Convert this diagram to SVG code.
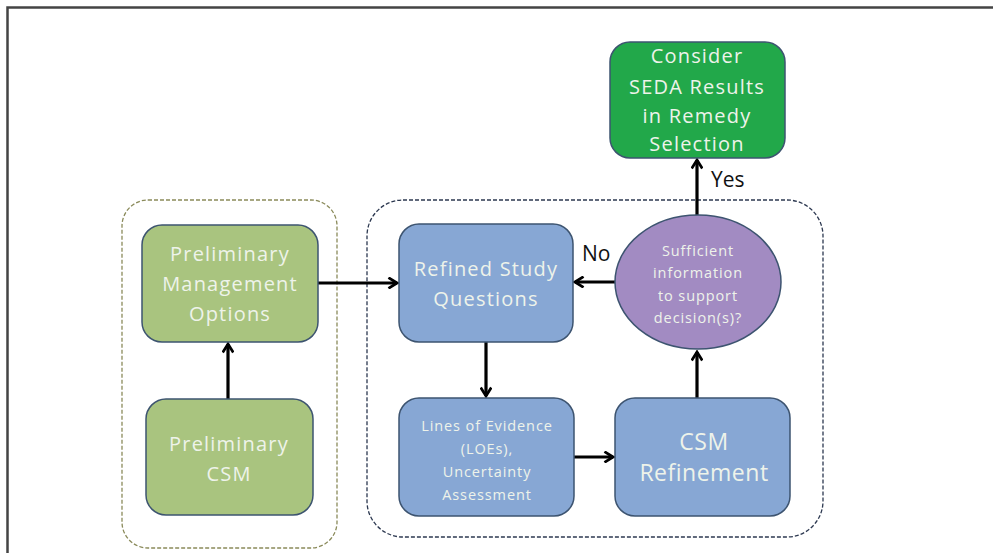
<svg xmlns="http://www.w3.org/2000/svg" width="993" height="553" viewBox="0 0 993 553">
<style>
.node{stroke:#3d5470;stroke-width:1.5}
.pg{fill:#a9c47f}
.bl{fill:#87a7d4}
.t{font-family:"Open Sans","Liberation Sans",sans-serif;fill:#eef3ea;text-anchor:middle}
.lbl{font-family:"Open Sans","Liberation Sans",sans-serif;fill:#111;font-size:21px}
.con{stroke:#000;stroke-width:3.2;fill:none;marker-end:url(#ah)}
</style>
<defs>
<marker id="ah" viewBox="0 0 12 12" refX="10" refY="6" markerWidth="4" markerHeight="4" orient="auto" markerUnits="strokeWidth">
<path d="M2,1 L10,6 L2,11" fill="none" stroke="#000" stroke-width="2.6"/>
</marker>
</defs>
<rect width="993" height="553" fill="#fff"/>
<path d="M7.5,553 V7.5 H993" fill="none" stroke="#444" stroke-width="2.5"/>
<g id="group-preliminary">
<rect x="122" y="200" width="215" height="348" rx="26" fill="none" stroke="#8a8a5a" stroke-width="1.3" stroke-dasharray="4,2"/>
</g>
<g id="group-refined">
<rect x="367" y="200" width="456" height="337" rx="36" fill="none" stroke="#2c3850" stroke-width="1.3" stroke-dasharray="4,2"/>
</g>
<g id="connectors">
<line class="con" x1="228" y1="399" x2="228" y2="344"/>
<line class="con" x1="318" y1="283" x2="397" y2="283"/>
<line class="con" x1="486" y1="342" x2="486" y2="396"/>
<line class="con" x1="574" y1="457" x2="613" y2="457"/>
<line class="con" x1="697" y1="398" x2="697" y2="352"/>
<line class="con" x1="615" y1="282" x2="575" y2="282"/>
<line class="con" x1="697" y1="215" x2="697" y2="160"/>
<text class="lbl" x="582" y="261">No</text>
<text class="lbl" x="711" y="187">Yes</text>
</g>
<g id="node-consider">
<rect class="node" x="610" y="42" width="175" height="116" rx="20" fill="#22a84a"/>
<text class="t" font-size="20" letter-spacing="1.2"><tspan x="697" y="63">Consider</tspan><tspan x="697" y="94">SEDA Results</tspan><tspan x="697" y="123">in Remedy</tspan><tspan x="697" y="151">Selection</tspan></text>
</g>
<g id="node-pmo">
<rect class="node pg" x="142" y="225" width="176" height="117" rx="20"/>
<text class="t" font-size="20" letter-spacing="1.2"><tspan x="230" y="261">Preliminary</tspan><tspan x="230" y="291">Management</tspan><tspan x="230" y="321">Options</tspan></text>
</g>
<g id="node-pcsm">
<rect class="node pg" x="146" y="399" width="167" height="116" rx="20"/>
<text class="t" font-size="20" letter-spacing="1.2"><tspan x="229" y="451">Preliminary</tspan><tspan x="229" y="481">CSM</tspan></text>
</g>
<g id="node-rsq">
<rect class="node bl" x="399" y="224" width="174" height="118" rx="20"/>
<text class="t" font-size="20" letter-spacing="1.2"><tspan x="486" y="276">Refined Study</tspan><tspan x="486" y="306">Questions</tspan></text>
</g>
<g id="node-loe">
<rect class="node bl" x="399" y="398" width="175" height="118" rx="20"/>
<text class="t" font-size="14.5" letter-spacing="0.9"><tspan x="487" y="431">Lines of Evidence</tspan><tspan x="487" y="454">(LOEs),</tspan><tspan x="487" y="477">Uncertainty</tspan><tspan x="487" y="500">Assessment</tspan></text>
</g>
<g id="node-csmr">
<rect class="node bl" x="615" y="398" width="175" height="118" rx="20"/>
<text class="t" font-size="23" letter-spacing="0.5"><tspan x="704" y="450">CSM</tspan><tspan x="704" y="481">Refinement</tspan></text>
</g>
<g id="node-decision">
<ellipse class="node" cx="698" cy="282" rx="83" ry="67" fill="#a28bc2"/>
<text class="t" font-size="14.5" letter-spacing="0.9"><tspan x="698" y="256">Sufficient</tspan><tspan x="698" y="278">information</tspan><tspan x="698" y="301">to support</tspan><tspan x="698" y="323">decision(s)?</tspan></text>
</g>
</svg>
